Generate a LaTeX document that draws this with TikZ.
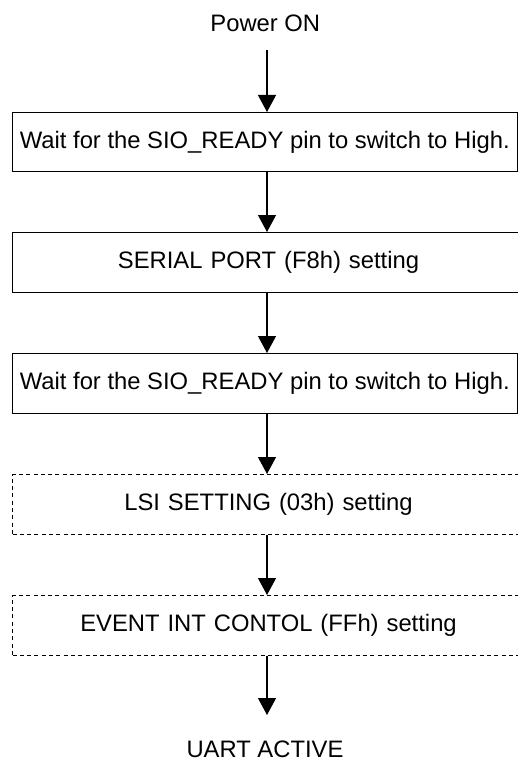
\documentclass[tikz,border=0pt]{standalone}
\usepackage{fontspec}
\setmainfont{Liberation Sans}
\usetikzlibrary{arrows.meta}
\begin{document}
\begin{tikzpicture}[x=1pt,y=-1pt,
  font=\fontsize{23.8}{28}\selectfont,
  stepbox/.style={draw, line width=1pt, minimum width=504.5pt, minimum height=59.5pt, inner sep=0pt, anchor=north west},
  widebox/.style={stepbox, minimum width=512pt, text width=504.5pt, align=center},
  dashbox/.style={widebox, dash pattern=on 4pt off 3.3pt},
  plain/.style={inner sep=0pt, text depth=0pt, text height=17pt},
  arr/.style={line width=1.2pt, -{Triangle[width=18pt,length=17pt]}}]
\useasboundingbox (0,0) rectangle (517,762);
\coordinate (ax) at (267,0);
\node[plain, anchor=base] (pw) at (265.3,31.7) {Power ON};
\node[stepbox] (b1) at (12,112) {Wait for the SIO\_READY pin to switch to High.};
\node[widebox] (b2) at (12,232) {SERIAL PORT (F8h) setting};
\node[stepbox] (b3) at (12,353) {Wait for the SIO\_READY pin to switch to High.};
\node[dashbox] (b4) at (12,474) {LSI SETTING (03h) setting};
\node[dashbox] (b5) at (12,595) {EVENT INT CONTOL (FFh) setting};
\node[plain, anchor=north] (ua) at (265,740) {UART ACTIVE};
\draw[arr, shorten <=18.3pt] (pw.south -| ax) -- (b1.north -| ax);
\draw[arr] (b1.south -| ax) -- (b2.north -| ax);
\draw[arr] (b2.south -| ax) -- (b3.north -| ax);
\draw[arr] (b3.south -| ax) -- (b4.north -| ax);
\draw[arr] (b4.south -| ax) -- (b5.north -| ax);
\draw[arr, shorten >=25pt] (b5.south -| ax) -- (ua.north -| ax);
\end{tikzpicture}
\end{document}
